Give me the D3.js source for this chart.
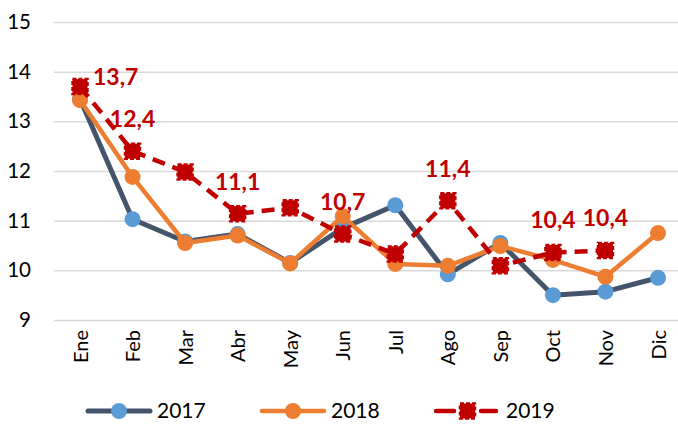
<!DOCTYPE html>
<html><head><meta charset="utf-8">
<script src="https://cdn.jsdelivr.net/npm/d3@7"></script>
<style>body{margin:0;background:#fff}svg{display:block}</style>
</head><body>
<svg id="c" width="678" height="426"></svg>
<script>
const months = ["Ene","Feb","Mar","Abr","May","Jun","Jul","Ago","Sep","Oct","Nov","Dic"];
const s2017 = [13.45,11.03,10.58,10.73,10.15,10.85,11.31,9.92,10.55,9.50,9.57,9.85];
const s2018 = [13.43,11.88,10.55,10.70,10.14,11.09,10.13,10.09,10.49,10.21,9.87,10.75];
const s2019 = [13.7,12.4,11.98,11.14,11.26,10.73,10.33,11.4,10.09,10.36,10.4,null];
const labels2019 = ["13,7","12,4","","11,1","","10,7","","11,4","","10,4","10,4",""];
const yTicks = [9,10,11,12,13,14,15];
const seriesNames = ["2017","2018","2019"];

const font = "Lato, sans-serif";
const svg = d3.select("#c");
const x = d3.scalePoint().domain(months).range([80,658]);
const y = d3.scaleLinear().domain([9,15]).range([320,22]);

// gridlines
const yAxis = d3.axisLeft(y).tickValues(yTicks).tickSize(-630).tickFormat(d3.format("d")).tickPadding(23);
const gy = svg.append("g").attr("transform","translate(54,0)").call(yAxis);
gy.select(".domain").remove();
gy.selectAll(".tick line").attr("stroke","#D9D9D9").attr("stroke-width",1.5);
gy.selectAll(".tick text").attr("font-family",font).attr("font-size",20.5).attr("fill","#000");

// x axis labels
const xAxis = d3.axisBottom(x).tickSize(0).tickPadding(0);
const gx = svg.append("g").attr("transform","translate(0,320)").call(xAxis);
gx.select(".domain").remove();
gx.selectAll(".tick text").attr("font-family",font).attr("font-size",20).attr("fill","#000")
  .attr("transform","rotate(-90)").attr("text-anchor","end").attr("dy","0.35em").attr("x",-10).attr("y",0);

const line = d3.line().defined(d=>d!=null).x((d,i)=>x(months[i])).y(d=>y(d));
// 2017
svg.append("path").datum(s2017).attr("d",line).attr("fill","none").attr("stroke","#44546A").attr("stroke-width",5).attr("stroke-linejoin","round");
svg.append("g").selectAll("circle").data(s2017).join("circle")
  .attr("cx",(d,i)=>x(months[i])).attr("cy",d=>y(d)).attr("r",8).attr("fill","#5B9BD5");
// 2018
svg.append("path").datum(s2018).attr("d",line).attr("fill","none").attr("stroke","#ED7D31").attr("stroke-width",4.5).attr("stroke-linejoin","round");
svg.append("g").selectAll("circle").data(s2018).join("circle")
  .attr("cx",(d,i)=>x(months[i])).attr("cy",d=>y(d)).attr("r",8).attr("fill","#ED7D31");
// 2019
svg.append("path").datum(s2019).attr("d",line).attr("fill","none").attr("stroke","#C00000").attr("stroke-width",4.5).attr("stroke-dasharray","13,8");
svg.append("g").selectAll("rect").data(s2019.map((v,i)=>({v,i})).filter(d=>d.v!=null)).join("rect")
  .attr("x",d=>x(months[d.i])-7.5).attr("y",d=>y(d.v)-7.5).attr("width",15).attr("height",15)
  .attr("fill","#C00000").attr("stroke","#C00000").attr("stroke-width",2.5).attr("stroke-dasharray","4,2");
// labels
svg.append("g").selectAll("text").data(s2019.map((v,i)=>({v,i,t:labels2019[i]})).filter(d=>d.t)).join("text")
  .attr("x",d=>d.i===0 ? x(months[d.i])+13 : x(months[d.i]))
  .attr("y",d=>d.i===0 ? y(d.v)-2 : y(d.v)-24)
  .attr("text-anchor",d=>d.i===0?"start":"middle")
  .attr("font-family",font).attr("font-size",23).attr("font-weight","bold").attr("fill","#C00000")
  .text(d=>d.t);

// legend
const leg = [{x:88,name:seriesNames[0]},{x:262,name:seriesNames[1]},{x:436,name:seriesNames[2]}];
const ly = 411;
const lg = svg.append("g");
lg.append("line").attr("x1",leg[0].x).attr("x2",leg[0].x+62).attr("y1",ly).attr("y2",ly).attr("stroke","#44546A").attr("stroke-width",5).attr("stroke-linecap","round");
lg.append("circle").attr("cx",leg[0].x+31).attr("cy",ly).attr("r",8).attr("fill","#5B9BD5");
lg.append("line").attr("x1",leg[1].x).attr("x2",leg[1].x+62).attr("y1",ly).attr("y2",ly).attr("stroke","#ED7D31").attr("stroke-width",4.5).attr("stroke-linecap","round");
lg.append("circle").attr("cx",leg[1].x+31).attr("cy",ly).attr("r",8).attr("fill","#ED7D31");
lg.append("line").attr("x1",leg[2].x).attr("x2",leg[2].x+18).attr("y1",ly).attr("y2",ly).attr("stroke","#C00000").attr("stroke-width",4.5).attr("stroke-linecap","round");
lg.append("line").attr("x1",leg[2].x+45).attr("x2",leg[2].x+60).attr("y1",ly).attr("y2",ly).attr("stroke","#C00000").attr("stroke-width",4.5).attr("stroke-linecap","round");
lg.append("rect").attr("x",leg[2].x+24).attr("y",ly-7.5).attr("width",15).attr("height",15).attr("fill","#C00000").attr("stroke","#C00000").attr("stroke-width",2.5).attr("stroke-dasharray","4,2");
lg.selectAll("text").data(leg).join("text").attr("x",(d,i)=>d.x+(i===2?70:69)).attr("y",ly).attr("dy","0.35em")
  .attr("font-family",font).attr("font-size",21).attr("fill","#000").text(d=>d.name);
</script>
</body></html>
